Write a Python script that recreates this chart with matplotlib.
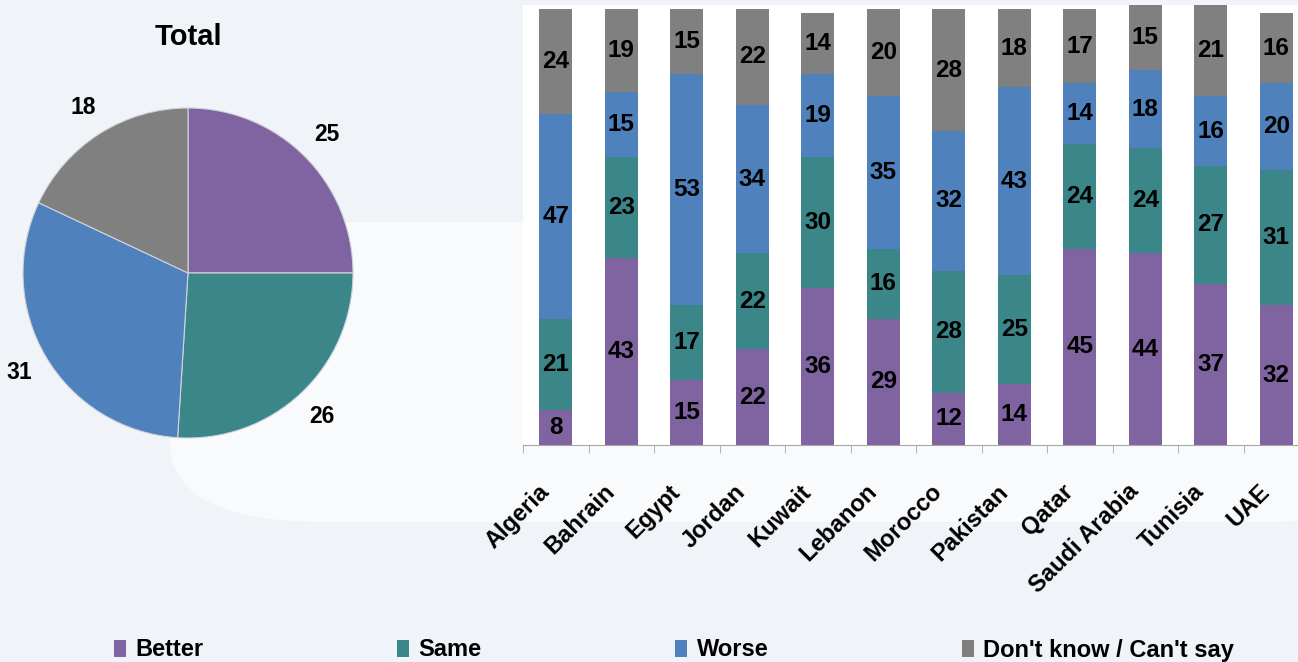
import numpy as np
import matplotlib
matplotlib.use("Agg")
import matplotlib.pyplot as plt
import matplotlib.transforms as mtransforms
from matplotlib.patches import FancyBboxPatch, Patch

plt.rcParams['font.family'] = ['Liberation Sans', 'DejaVu Sans']
plt.rcParams['font.weight'] = 'bold'

# data
categories = ["Better", "Same", "Worse", "Don't know / Can't say"]
total = [25, 26, 31, 18]
countries = ["Algeria", "Bahrain", "Egypt", "Jordan", "Kuwait", "Lebanon",
             "Morocco", "Pakistan", "Qatar", "Saudi Arabia", "Tunisia", "UAE"]
better = [8, 43, 15, 22, 36, 29, 12, 14, 45, 44, 37, 32]
same = [21, 23, 17, 22, 30, 16, 28, 25, 24, 24, 27, 31]
worse = [47, 15, 53, 34, 19, 35, 32, 43, 14, 18, 16, 20]
dont_know = [24, 19, 15, 22, 14, 20, 28, 18, 17, 15, 21, 16]

colors = ['#8064A2', '#3A8689', '#4F81BD', '#808080']

W, H = 1298, 662


def rect(l, t, r, b):
    # pixel box -> figure fraction
    return [l / W, 1 - b / H, (r - l) / W, (b - t) / H]


fig = plt.figure(figsize=(12.98, 6.62), dpi=100, facecolor='#F0F3F8')

# faint lighter panel in the background
bg = FancyBboxPatch((170 / W, 1 - 522 / H), 1250 / W, 300 / H,
                    boxstyle="round,pad=0,rounding_size=0.12",
                    transform=fig.transFigure, facecolor='#F8FAFC',
                    edgecolor='none', zorder=-5)
fig.patches.append(bg)

# pie
ax_pie = fig.add_axes(rect(188 - 165, 273 - 165, 188 + 165, 273 + 165))
ax_pie.set_zorder(2)
wedges, texts = ax_pie.pie(total, colors=colors, startangle=90, counterclock=False,
                           labels=[str(v) for v in total], labeldistance=1.19,
                           wedgeprops=dict(edgecolor='#D0D4DA', linewidth=0.8),
                           textprops=dict(fontsize=16.5, fontweight='bold', color='black'))
for t in texts:
    t.set_ha('center')
    t.set_va('center')
ax_pie.set_xlim(-1, 1)
ax_pie.set_ylim(-1, 1)
ax_pie.set_aspect('equal')
fig.text(188 / W, 1 - 37 / H, "Total", ha='center', va='center',
         fontsize=21, fontweight='bold')

# stacked bars
ax = fig.add_axes(rect(523, 4.6, 523 + 12 * 65.5, 445))
ax.set_zorder(2)
x = np.arange(len(countries))
bottom = np.zeros(len(countries))
for series, c in zip([better, same, worse, dont_know], colors):
    vals = np.array(series)
    ax.bar(x, vals, width=0.5, bottom=bottom, color=c)
    for xi, b, v in zip(x, bottom, vals):
        ax.text(xi, b + v / 2, str(v), ha='center', va='center',
                fontsize=17.5, fontweight='bold')
    bottom = bottom + vals

ax.set_xlim(-0.5, 11.5)
ax.set_ylim(0, 101)
ax.set_facecolor('white')
for s in ['top', 'right', 'left']:
    ax.spines[s].set_visible(False)
ax.spines['bottom'].set_color('#A6A6A6')
ax.set_yticks([])
ax.set_xticks(x)
ax.set_xticklabels(countries, rotation=45, ha='right', va='center',
                   rotation_mode='anchor', fontsize=17, fontweight='bold')
ax.tick_params(axis='x', which='major', length=0, pad=31)
shift = mtransforms.ScaledTranslation(-10 / 100, 0, fig.dpi_scale_trans)
for lbl in ax.get_xticklabels():
    lbl.set_transform(lbl.get_transform() + shift)
ax.set_xticks(np.arange(-0.5, 12, 1), minor=True)
ax.tick_params(axis='x', which='minor', length=6, color='#A6A6A6')

# legend
handles = [Patch(facecolor=c, edgecolor='none') for c in colors]
fig.legend(handles, categories, loc='center left',
           bbox_to_anchor=(105 / W, 1 - 650 / H), ncol=4, frameon=False,
           fontsize=17, handlelength=0.5, handleheight=0.7,
           handletextpad=0.4, columnspacing=8.2, borderaxespad=0)

fig.savefig("out.png", dpi=100, facecolor=fig.get_facecolor())
